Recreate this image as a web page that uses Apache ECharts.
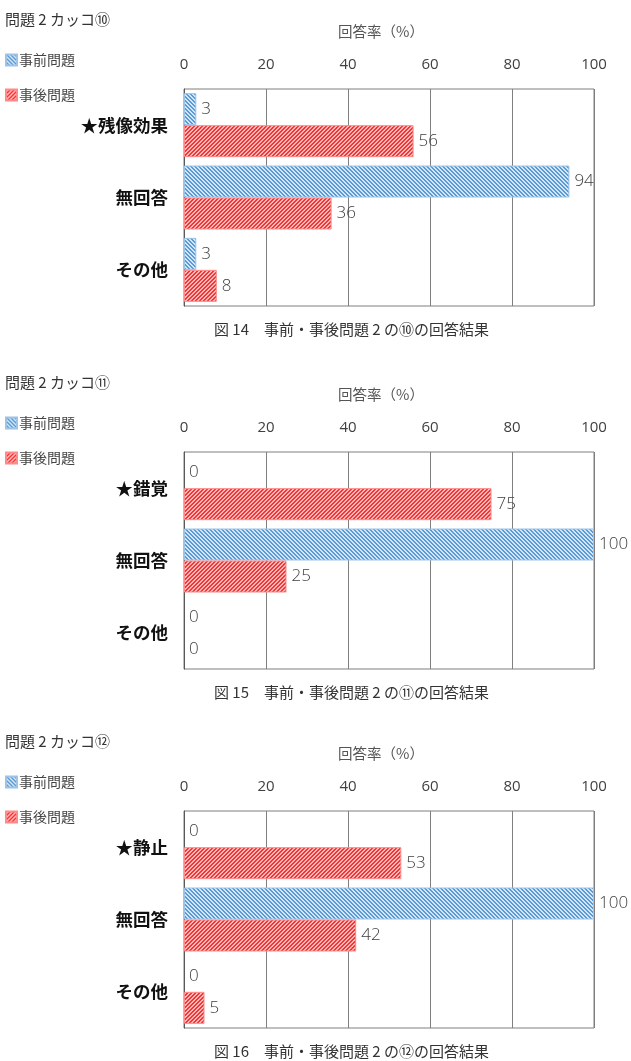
<!DOCTYPE html>
<html><head><meta charset="utf-8">
<script src="https://cdn.jsdelivr.net/npm/echarts@6/dist/echarts.min.js"></script>
<style>html,body{margin:0;padding:0;background:#fff}#c{width:631px;height:1061px}</style>
</head><body><div id="c"></div>
<script>
const panelTitles = ['問題 2 カッコ⑩', '問題 2 カッコ⑪', '問題 2 カッコ⑫'];
const captions = ['図 14　事前・事後問題 2 の⑩の回答結果', '図 15　事前・事後問題 2 の⑪の回答結果', '図 16　事前・事後問題 2 の⑫の回答結果'];
const categories1 = ['★残像効果', '無回答', 'その他'];
const categories2 = ['★錯覚', '無回答', 'その他'];
const categories3 = ['★静止', '無回答', 'その他'];
const pre1 = [3, 94, 3];
const post1 = [56, 36, 8];
const pre2 = [0, 100, 0];
const post2 = [75, 25, 0];
const pre3 = [0, 100, 0];
const post3 = [53, 42, 5];
const seriesNames = ['事前問題', '事後問題'];
const axisName = '回答率（%）';

function makePattern(bg, fg, dir) {
  const s = 4;
  const c = document.createElement('canvas');
  c.width = s; c.height = s;
  const ctx = c.getContext('2d');
  ctx.fillStyle = bg; ctx.fillRect(0, 0, s, s);
  ctx.fillStyle = fg;
  for (let i = 0; i < s; i++) {
    const x = dir > 0 ? (s - 1 - i) : i;
    ctx.fillRect(x, i, 1, 1);
    ctx.fillRect((x + 1) % s, i, 1, 1);
  }
  return c;
}
const bluePat = { image: makePattern('#d4e6f6', '#5b9bd5', -1), repeat: 'repeat' };
const redPat = { image: makePattern('#ffbcbc', '#fa3232', 1), repeat: 'repeat' };

const cats = [categories1, categories2, categories3];
const pres = [pre1, pre2, pre3];
const posts = [post1, post2, post3];
const offs = [0, 363, 722];

const font = '"Noto Sans CJK JP", "Noto Sans", sans-serif';
const numFont = '"Open Sans", "Noto Sans", sans-serif';
const grids = [], xAxes = [], yAxes = [], series = [], titles = [], legends = [];
function toItems(arr) {
  return arr.map(v => v === 0 ? { value: v, itemStyle: { borderWidth: 0 } } : v);
}
offs.forEach((off, i) => {
  grids.push({ left: 184, width: 410, top: 89 + off, height: 217, show: true, borderColor: '#7f7f7f', borderWidth: 1, containLabel: false });
  xAxes.push({
    type: 'value', gridIndex: i, position: 'top', min: 0, max: 100, interval: 20,
    name: axisName, nameLocation: 'middle', nameGap: 50,
    nameTextStyle: { fontSize: 14.5, color: '#555', fontFamily: font, padding: [0, 16, 0, 0] },
    axisLine: { show: false }, axisTick: { show: false },
    axisLabel: { margin: 17, fontSize: 15, color: '#404040', fontFamily: numFont },
    splitLine: { show: true, lineStyle: { color: '#7f7f7f', width: 1 } }
  });
  yAxes.push({
    type: 'category', gridIndex: i, data: cats[i], inverse: true,
    axisLine: { show: true, lineStyle: { color: '#595959' } }, axisTick: { show: false },
    axisLabel: { margin: 16, fontSize: 17.5, fontWeight: 'bold', color: '#111', fontFamily: font }
  });
  const lbl = { show: true, position: 'right', distance: 5, fontSize: 17, color: '#404040', fontFamily: numFont, fontWeight: 300 };
  series.push({
    name: seriesNames[0], type: 'bar', xAxisIndex: i, yAxisIndex: i, data: toItems(pres[i]),
    barWidth: 32, barGap: '0%',
    itemStyle: { color: bluePat, borderColor: '#9dc3e6', borderWidth: 1 },
    label: lbl
  });
  series.push({
    name: seriesNames[1], type: 'bar', xAxisIndex: i, yAxisIndex: i, data: toItems(posts[i]),
    barWidth: 32, barGap: '0%',
    itemStyle: { color: redPat, borderColor: '#ff8a8a', borderWidth: 1 },
    label: lbl
  });
  titles.push({ text: panelTitles[i], left: 0, top: 7 + off, textStyle: { fontSize: 15, fontWeight: 'normal', color: '#333', fontFamily: font } });
  titles.push({ text: captions[i], top: 317 + off, left: 209, textStyle: { fontSize: 15, fontWeight: 'normal', color: '#333', fontFamily: font } });
  legends.push({
    orient: 'vertical', left: 0, top: 48 + off, itemWidth: 11, itemHeight: 11, itemGap: 21,
    icon: 'rect', data: seriesNames,
    textStyle: { fontSize: 14, color: '#444', fontFamily: font, padding: [0, 0, 0, -3] }
  });
});

const chart = echarts.init(document.getElementById('c'), null, { renderer: 'canvas' });
chart.setOption({
  animation: false,
  title: titles,
  legend: legends,
  grid: grids,
  xAxis: xAxes,
  yAxis: yAxes,
  series: series
});
</script>
</body></html>
